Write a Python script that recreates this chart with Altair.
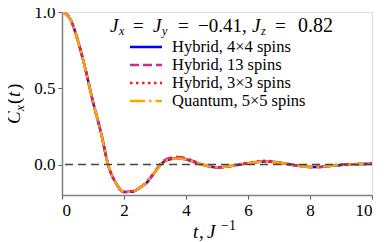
import altair as alt
import pandas as pd

# ---- data ----
t = [0.0, 0.25, 0.5, 0.75, 1.0, 1.25, 1.5, 1.75, 2.0, 2.25, 2.5, 2.75, 3.0, 3.25, 3.5,
     3.75, 4.0, 4.25, 4.5, 4.75, 5.0, 5.25, 5.5, 5.75, 6.0, 6.25, 6.5, 6.75, 7.0, 7.25,
     7.5, 7.75, 8.0, 8.25, 8.5, 8.75, 9.0, 9.25, 9.5, 9.75, 10.0]

hybrid_4x4 = [1.0, 0.96, 0.82, 0.63, 0.41, 0.215, -0.01, -0.125, -0.18, -0.178, -0.155, -0.115,
              -0.05, 0.012, 0.035, 0.04, 0.033, 0.017, 0.0, -0.012, -0.018, -0.015, -0.008, 0.0,
              0.008, 0.015, 0.019, 0.018, 0.012, 0.004, -0.004, -0.011, -0.016, -0.017, -0.013,
              -0.008, -0.004, 0.0, 0.002, 0.004, 0.005]
hybrid_13 = [1.0, 0.96, 0.82, 0.63, 0.41, 0.215, -0.01, -0.125, -0.18, -0.176, -0.152, -0.11,
             -0.045, 0.02, 0.045, 0.05, 0.041, 0.022, 0.004, -0.012, -0.02, -0.017, -0.009, 0.0,
             0.009, 0.016, 0.02, 0.018, 0.011, 0.003, -0.005, -0.012, -0.017, -0.017, -0.012,
             -0.007, -0.003, 0.0, 0.003, 0.004, 0.004]
hybrid_3x3 = [1.0, 0.96, 0.82, 0.63, 0.41, 0.215, -0.01, -0.125, -0.18, -0.178, -0.155, -0.114,
              -0.049, 0.013, 0.036, 0.041, 0.034, 0.017, 0.0, -0.013, -0.019, -0.015, -0.007, 0.002,
              0.011, 0.019, 0.024, 0.021, 0.013, 0.004, -0.005, -0.012, -0.016, -0.015, -0.01,
              -0.004, 0.0, -0.002, 0.004, 0.001, 0.006]
quantum_5x5 = [1.0, 0.96, 0.82, 0.63, 0.41, 0.215, -0.01, -0.125, -0.18, -0.178, -0.155, -0.115,
               -0.05, 0.011, 0.034, 0.039, 0.032, 0.016, 0.0, -0.012, -0.018, -0.015, -0.008, 0.0,
               0.008, 0.015, 0.019, 0.018, 0.012, 0.004, -0.004, -0.011, -0.015, -0.016, -0.012,
               -0.007, -0.003, 0.0, 0.002, 0.003, 0.004]

series_names = ["Hybrid, 4×4 spins", "Hybrid, 13 spins", "Hybrid, 3×3 spins", "Quantum, 5×5 spins"]
series_values = [hybrid_4x4, hybrid_13, hybrid_3x3, quantum_5x5]
series_colors = ["#0000ff", "#cc2a96", "#ff1a1a", "#ffa500"]
series_dashes = [[1, 0], [9, 4], [2.5, 3.5], [15, 4, 2.5, 4]]

x_ticks = [0, 2, 4, 6, 8, 10]
y_ticks = [0.0, 0.5, 1.0]

FONT = "Liberation Serif"
W, H = 310, 183
OX, OY = 62, 12  # plot-area origin in page pixels

color = alt.Color("series:N", scale=alt.Scale(domain=series_names, range=series_colors), legend=None)
dash = alt.StrokeDash("series:N", scale=alt.Scale(domain=series_names, range=series_dashes), legend=None)

axis_common = dict(title=None, grid=False, labelFont=FONT, labelFontSize=17, labelColor="black",
                   domainColor="#808080", domainWidth=1.5, tickColor="#555555", tickSize=4,
                   tickWidth=1, labelPadding=3)
xenc = alt.X("t:Q", scale=alt.Scale(domain=[0, 10], nice=False),
             axis=alt.Axis(values=x_ticks, **axis_common))
yenc = alt.Y("C:Q", scale=alt.Scale(domain=[-0.2, 1.0], nice=False, zero=False),
             axis=alt.Axis(values=y_ticks, format=".1f", **axis_common))

layers = []
for name, vals in zip(series_names, series_values):
    df = pd.DataFrame({"t": t, "C": vals, "series": name})
    layers.append(alt.Chart(df).mark_line(strokeWidth=2.5, interpolate="monotone", clip=True)
                  .encode(x=xenc, y=yenc, color=color, strokeDash=dash))

zero = alt.Chart(pd.DataFrame({"C": [0.0]})).mark_rule(color="#444444", strokeWidth=1.5,
                                                       strokeDash=[8, 5]).encode(y=alt.Y("C:Q"))

# legend (rows at page y 47, 65, 83, 101; key lines 130-162, labels from 172)
leg_df = pd.DataFrame({"series": series_names,
                       "py": [47 - OY + 18 * i for i in range(len(series_names))]})
leg_lines = alt.Chart(leg_df).mark_rule(strokeWidth=2.5).encode(
    x=alt.value(130 - OX), x2=alt.value(162 - OX), y=alt.Y("py:Q", scale=None),
    color=color, strokeDash=dash)
leg_text = alt.Chart(leg_df).mark_text(font=FONT, fontSize=16.5, align="left", baseline="middle",
                                       color="black").encode(
    x=alt.value(172 - OX), y=alt.Y("py:Q", scale=None), text="series:N")


def txt(items, **kw):
    df = pd.DataFrame(items, columns=["s", "px", "py"])
    df["px"] = df["px"] - OX
    df["py"] = df["py"] - OY
    return alt.Chart(df).mark_text(font=FONT, align="left", baseline="alphabetic", color="black", **kw).encode(
        x=alt.X("px:Q", scale=None), y=alt.Y("py:Q", scale=None), text="s:N")


# title  J_x = J_y = -0.41, J_z = 0.82   (baseline at page y 32)
by = 32
title_it = txt([["J", 110, by], ["J", 153, by], ["J", 252, by]], fontStyle="italic", fontSize=19)
title_sub = txt([["x", 119, by + 3], ["y", 162, by + 3], ["z", 261, by + 3]], fontStyle="italic", fontSize=12)
title_rm = txt([["=", 133, by], ["=", 178, by], ["−0.41,", 198, by], ["=", 275, by]], fontSize=19)
title_num = txt([["0.82", 298, by]], fontSize=20)

# x label  t, J^{-1}
xb = 238
xl_it = txt([["t", 193, xb], ["J", 207, xb]], fontStyle="italic", fontSize=19)
xl_rm = txt([[",", 199, xb]], fontSize=19)
xl_sup = txt([["−1", 221, xb - 8]], fontSize=14)

# y label  C_x(t) rotated
yx = 20
yl_it = txt([["C", yx, 124]], fontStyle="italic", fontSize=19, angle=270)
yl_sub = txt([["x", yx + 4, 111]], fontStyle="italic", fontSize=13, angle=270)
yl_par = txt([["(", yx, 104], [")", yx, 90]], fontSize=19, angle=270)
yl_t = txt([["t", yx, 97]], fontStyle="italic", fontSize=19, angle=270)

chart = alt.layer(*layers, zero, leg_lines, leg_text, title_it, title_sub, title_rm, title_num,
                  xl_it, xl_rm, xl_sup, yl_it, yl_sub, yl_par, yl_t).properties(
    width=W, height=H, autosize="none",
    padding={"left": 54, "top": 4, "right": 7, "bottom": 47},
).configure_view(stroke="black", strokeWidth=1.2).configure(background="white")

chart.save("out.html", embed_options={"renderer": "svg", "actions": False})
